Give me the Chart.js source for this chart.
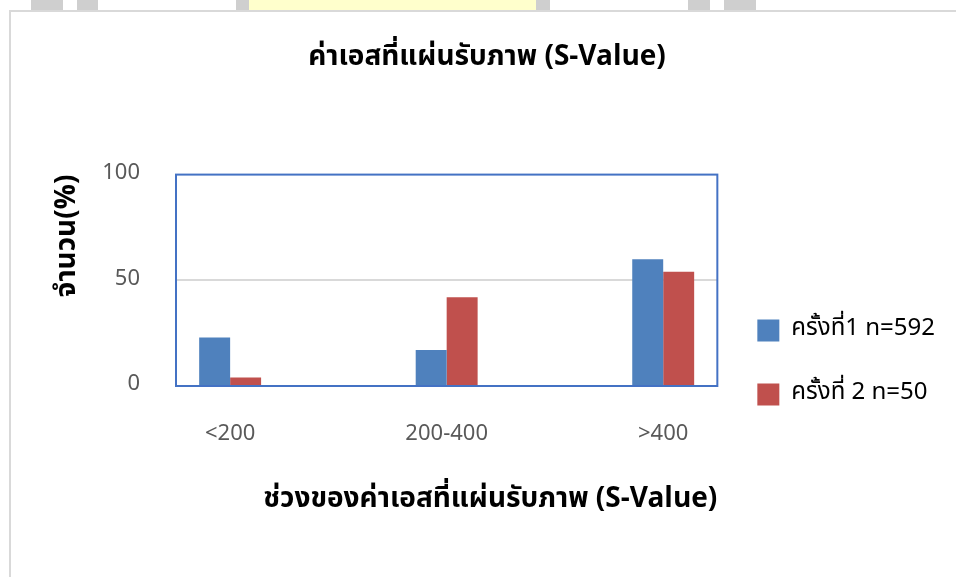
<!DOCTYPE html>
<html>
<head>
<meta charset="utf-8">
<script src="https://cdn.jsdelivr.net/npm/chart.js@4.4.1/dist/chart.umd.min.js"></script>
<style>
  html, body { margin: 0; padding: 0; background: #fff; }
  body { width: 956px; height: 577px; position: relative; overflow: hidden; }
  .wm { position: absolute; top: 0; height: 11px; background: #cfcfcf; }
  .frame { position: absolute; left: 9px; top: 10px; right: 0; bottom: 0;
           border-left: 2px solid #d9d9d9; border-top: 2px solid #d9d9d9; }
  #wrap { position: absolute; left: 12px; top: 13px; width: 944px; height: 564px; }
</style>
</head>
<body>
<div class="wm" style="left:31px;width:32px"></div>
<div class="wm" style="left:77px;width:21px"></div>
<div class="wm" style="left:236px;width:14px"></div>
<div class="wm" style="left:249px;width:287px;background:#ffffcc"></div>
<div class="wm" style="left:536px;width:14px"></div>
<div class="wm" style="left:688px;width:22px"></div>
<div class="wm" style="left:724px;width:32px"></div>
<div class="frame"></div>
<div id="wrap"><canvas id="sValueChart"></canvas></div>
<script>
var categories = ['<200', '200-400', '>400'];
var round1 = [23, 17, 60];
var round2 = [4, 42, 54];
var yTicks = [0, 50, 100];

var thaiFont = "'Noto Sans Thai', 'Leelawadee UI', Tahoma, 'Noto Sans', sans-serif";

// blue frame round the plot area
var plotBorder = {
  id: 'plotBorder',
  beforeDatasetsDraw: function (chart) {
    var a = chart.chartArea;
    var ctx = chart.ctx;
    ctx.save();
    ctx.strokeStyle = '#4472c4';
    ctx.lineWidth = 2;
    ctx.strokeRect(a.left, a.top, a.right - a.left, a.bottom - a.top);
    ctx.restore();
  }
};

new Chart(document.getElementById('sValueChart'), {
  type: 'bar',
  data: {
    datasets: [
      {
        label: 'ครั้งที่1 n=592',
        backgroundColor: '#4f81bd',
        data: round1.map(function (v, i) { return { x: i, y: v }; })
      },
      {
        label: 'ครั้งที่ 2 n=50',
        backgroundColor: '#c0504d',
        data: round2.map(function (v, i) { return { x: i, y: v }; })
      }
    ]
  },
  options: {
    responsive: true,
    maintainAspectRatio: false,
    animation: false,
    categoryPercentage: 0.286,
    barPercentage: 1,
    layout: { padding: { left: 17, right: 11, top: 0, bottom: 26 } },
    plugins: {
      tooltip: { enabled: false },
      title: {
        display: true,
        text: 'ค่าเอสที่แผ่นรับภาพ (S-Value)',
        color: '#000',
        font: { family: thaiFont, size: 28, weight: 'bold' },
        padding: { top: 30, bottom: 98 }
      },
      legend: {
        position: 'right',
        align: 'center',
        // empty title only pushes the two items down
        title: { display: true, text: '', font: { size: 1 }, padding: { top: 160, bottom: 0 } },
        labels: {
          color: '#000',
          boxWidth: 22,
          boxHeight: 22,
          padding: 40,
          font: { family: thaiFont, size: 24 }
        }
      }
    },
    scales: {
      x: {
        type: 'linear',
        offset: false,
        min: -0.25,
        max: 2.25,
        grid: { display: false, drawTicks: false },
        border: { display: false },
        afterBuildTicks: function (scale) {
          scale.ticks = categories.map(function (c, i) { return { value: i }; });
        },
        ticks: {
          padding: 36,
          color: '#595959',
          font: { family: thaiFont, size: 22 },
          callback: function (value) { return categories[value]; }
        },
        title: {
          display: true,
          text: 'ช่วงของค่าเอสที่แผ่นรับภาพ (S-Value)',
          align: 'end',
          color: '#000',
          font: { family: thaiFont, size: 28, weight: 'bold' },
          padding: { top: 0, bottom: 33 }
        }
      },
      y: {
        min: 0,
        max: 100,
        afterBuildTicks: function (scale) {
          scale.ticks = yTicks.map(function (v) { return { value: v }; });
        },
        afterFit: function (scale) { scale.width = 147; },
        grid: {
          drawTicks: false,
          lineWidth: 2,
          color: function (c) { return c.tick && c.tick.value === 50 ? '#d9d9d9' : 'rgba(0,0,0,0)'; }
        },
        border: { display: false },
        ticks: {
          padding: 36,
          color: '#595959',
          font: { family: thaiFont, size: 22 }
        },
        title: {
          display: true,
          text: 'จำนวน(%)',
          align: 'end',
          color: '#000',
          font: { family: thaiFont, size: 28, weight: 'bold' },
          padding: { top: 24, bottom: 0 }
        }
      }
    }
  },
  plugins: [plotBorder]
});
</script>
</body>
</html>
